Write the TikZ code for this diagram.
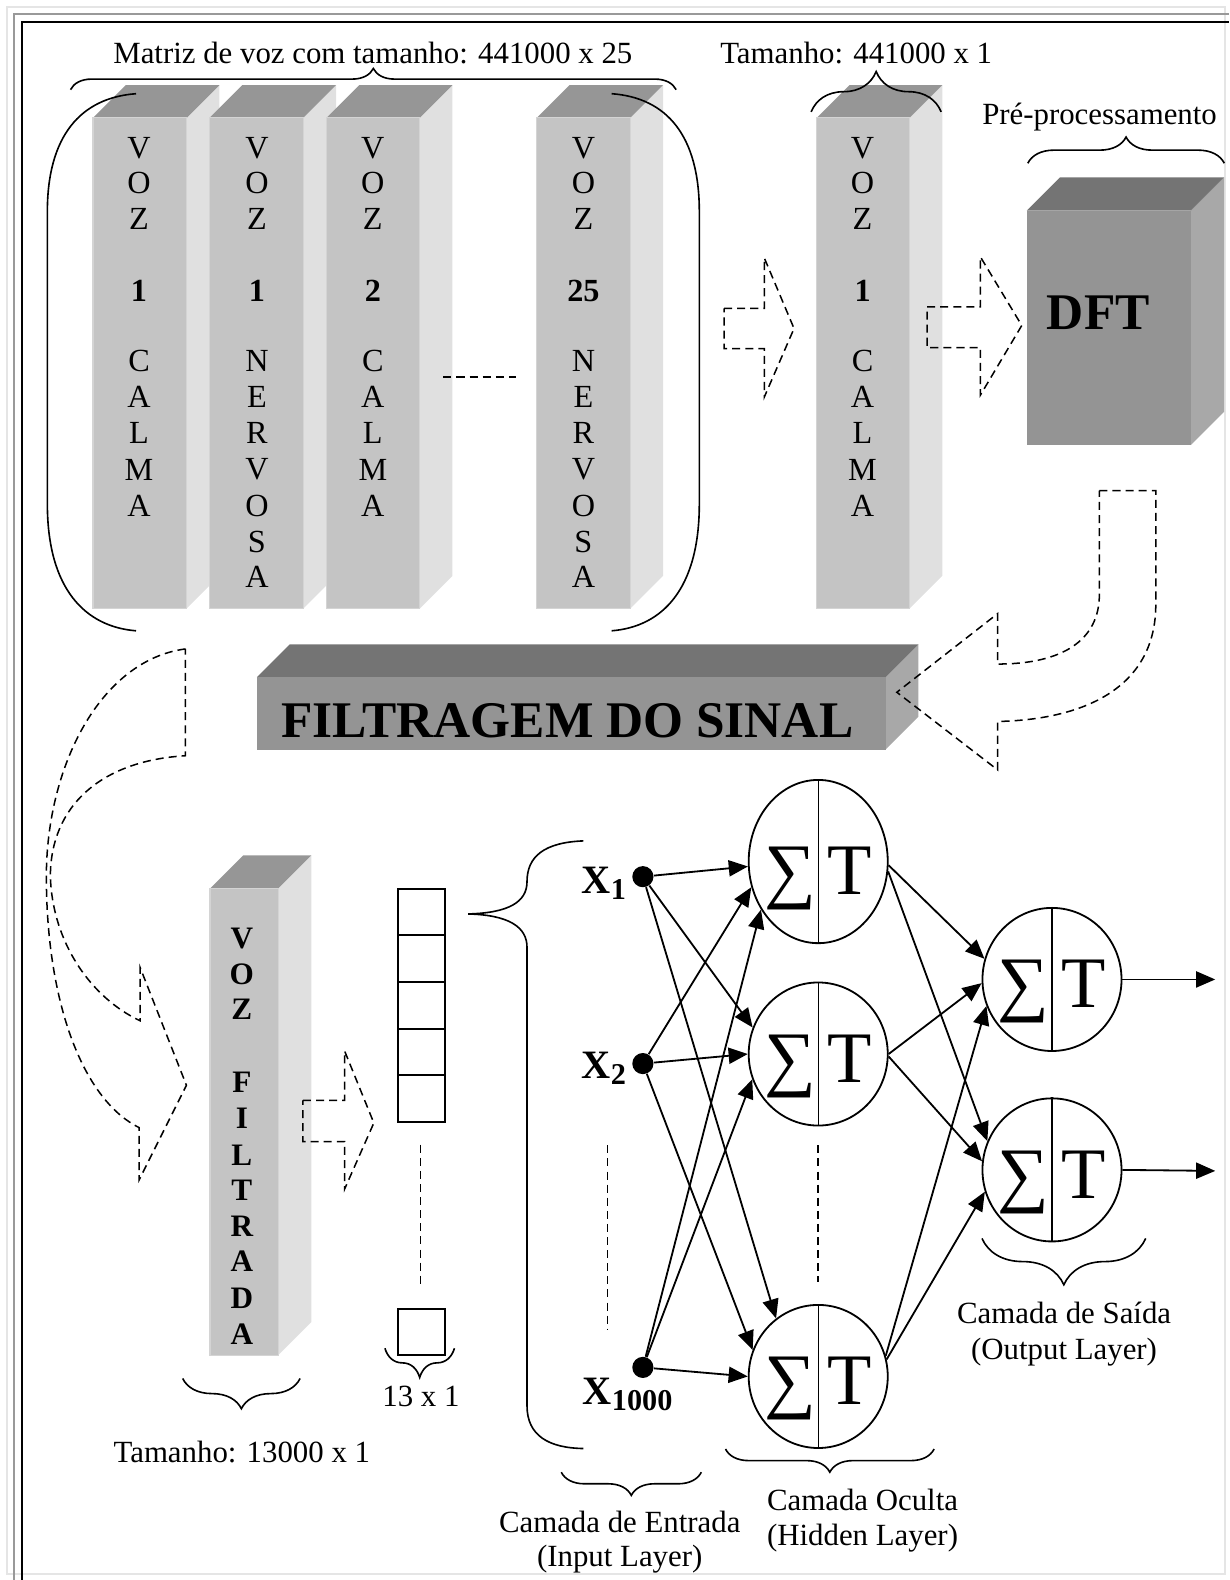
\documentclass[tikz,border=0pt]{standalone}
\usepackage{fontspec}
\setmainfont{Liberation Serif}
\usetikzlibrary{shapes.geometric,arrows.meta,decorations.pathreplacing}
\definecolor{cfront}{gray}{0.77}
\definecolor{ctop}{gray}{0.59}
\definecolor{cside}{gray}{0.88}
\definecolor{cedge}{gray}{0.83}
\definecolor{dfront}{gray}{0.58}
\definecolor{dtop}{gray}{0.455}
\definecolor{dside}{gray}{0.66}
\definecolor{framelight}{gray}{0.9}
\definecolor{framemid}{gray}{0.6}
\newcommand\boxthreed[8]{%
  \fill[#8] (#3,#2) -- (#3+#5,#2-#5) -- (#3+#5,#4-#5) -- (#3,#4) -- cycle;
  \fill[#7] (#1,#2) -- (#1+#5,#2-#5) -- (#3+#5,#2-#5) -- (#3,#2) -- cycle;
  \fill[#6] (#1,#2) rectangle (#3,#4);
}
\newcommand\neuronnode[5]{%
  \node[neuron, minimum height=#4] (#1) at (#2,#3) {};
  \draw[line width=0.7pt] (#1.north) -- (#1.south);
  \node[sigt, anchor=base] (#1s) at (#2-28,#3+#5) {∑};
  \node[sigt, anchor=base] (#1t) at (#2+31,#3+#5) {T};
}
\begin{document}
\begin{tikzpicture}[x=0.5pt,y=-0.5pt,
  txt/.style={font=\fontsize{15.3}{18}\selectfont, inner sep=0pt},
  colt/.style={font=\fontsize{16}{16}\selectfont, inner sep=0pt},
  colb/.style={font=\fontsize{15.5}{16}\selectfont\bfseries, inner sep=0pt},
  big/.style={font=\fontsize{25.5}{26}\selectfont\bfseries, inner sep=0pt},
  sigt/.style={font=\fontsize{36}{36}\selectfont, inner sep=0pt},
  xlab/.style={font=\fontsize{20}{20}\selectfont\bfseries, inner sep=0pt, anchor=base west},
  dline/.style={draw=black, line width=0.75pt, dash pattern=on 4pt off 2.5pt},
  brc/.style={decorate, decoration={brace, amplitude=#1}, line width=0.8pt},
  curve/.style={line width=0.8pt},
  arr/.style={-{Triangle[length=9.5pt,width=8pt]}, line width=0.9pt},
  neuron/.style={ellipse, draw, line width=0.9pt, minimum width=69pt, minimum height=71pt, inner sep=0pt},
  dot/.style={circle, fill=black, minimum size=10.5pt, inner sep=0pt},
  cell/.style={draw, line width=1pt, minimum width=23pt, minimum height=23.15pt, inner sep=0pt},
  edge/.style={draw=cedge, line width=0.6pt}
]
\useasboundingbox (0,0) rectangle (1220,1568);
% frame
\draw[framelight, line width=1pt] (6.6,6.6) rectangle (1216,1561.6);
\draw[framemid, line width=1pt] (14.2,1568) -- (14.2,14.2) -- (1220,14.2);
\draw[black, line width=1pt] (22.1,1568) -- (22.1,22.1) -- (1220,22.1);

% ---------- top group of columns ----------
\boxthreed{92.2}{117}{185.2}{604}{32.5}{cfront}{ctop}{cside}
\draw[edge] (92.2,117) rectangle (185.2,604);
\boxthreed{208}{117}{301}{604}{32.5}{cfront}{ctop}{cside}
\draw[edge] (208,117) rectangle (301,604);
\boxthreed{324}{117}{416.5}{604}{32.5}{cfront}{ctop}{cside}
\draw[edge] (324,117) rectangle (416.5,604);
\boxthreed{532.7}{117}{625.5}{604}{32.5}{cfront}{ctop}{cside}
\draw[edge] (532.7,117) rectangle (625.5,604);

\foreach \l/\yy [count=\i] in {V/147,O/182,Z/217,\textbf{1}/289,C/358,A/394,L/430,M/466,A/502}
  \node[colt] (ca\i) at (138,\yy) {\l};
\foreach \l/\yy [count=\i] in {V/147,O/182,Z/217,\textbf{1}/289,N/358,E/394,R/430,V/466,O/502,S/538,A/572}
  \node[colt] (cb\i) at (255,\yy) {\l};
\foreach \l/\yy [count=\i] in {V/147,O/182,Z/217,\textbf{2}/289,C/358,A/394,L/430,M/466,A/502}
  \node[colt] (cc\i) at (370,\yy) {\l};
\foreach \l/\yy [count=\i] in {V/147,O/182,Z/217,\textbf{25}/289,N/358,E/394,R/430,V/466,O/502,S/538,A/572}
  \node[colt] (cd\i) at (579,\yy) {\l};

\draw[dline] (440,374) -- (512,374);

% round brackets
\draw[curve] (135,93) .. controls (80,97) and (47,135) .. (47,210) -- (47,500) .. controls (47,585) and (85,622) .. (135,626);
\draw[curve] (607,93) .. controls (662,97) and (694,135) .. (694,210) -- (694,500) .. controls (694,585) and (657,622) .. (607,626);

% top brace and text
\draw[brc=10.5pt] (70,89) -- (671,89);
\node[txt, anchor=base] (tmat) at (370,63) {Matriz de voz com tamanho: 441000 x 25};

% arrow 1
\draw[dline] (718.5,306) -- (758.5,306) -- (758.5,256) -- (788,326) -- (758.5,394) -- (758.5,346) -- (718.5,346) -- cycle;

% VOZ 1 CALMA
\boxthreed{810.6}{117}{902.6}{604}{32.5}{cfront}{ctop}{cside}
\draw[edge] (810.6,117) rectangle (902.6,604);
\foreach \l/\yy [count=\i] in {V/147,O/182,Z/217,\textbf{1}/289,C/358,A/394,L/430,M/466,A/502}
  \node[colt] (ce\i) at (856,\yy) {\l};
\draw[brc=20pt] (805,111) -- (934,111);
\node[txt, anchor=base] (tsz) at (849.7,63) {Tamanho: 441000 x 1};

% arrow 2
\draw[dline] (920,304.5) -- (973,304.5) -- (973,255) -- (1014,323) -- (973,392) -- (973,345) -- (920,345) -- cycle;

% DFT
\boxthreed{1019}{209}{1181.7}{441.7}{33}{dfront}{dtop}{dside}
\node[big] (dft) at (1090,310) {DFT};
\draw[brc=13pt] (1020,162) -- (1215,162);
\node[txt, anchor=base] (tpre) at (1091.2,124) {Pré-processamento};

% FILTRAGEM
\boxthreed{255}{672}{879}{743.8}{32.5}{dfront}{dtop}{dside}
\node[big] (filt) at (563,715) {FILTRAGEM DO SINAL};

% U-turn arrow
\draw[dline] (1091,487) -- (1147,487) -- (1147,600) .. controls (1147,680) and (1080,714) .. (990,716) -- (990,764) -- (890,687) -- (990,609) -- (990,659) .. controls (1055,659) and (1091,635) .. (1091,590) -- cycle;

% left curved arrow
\draw[dline] (184,644) .. controls (100,655) and (46,760) .. (46,870) .. controls (46,990) and (80,1090) .. (138,1119) -- (138,1171) -- (185,1077) -- (139,960) -- (139,1013) .. controls (90,990) and (52,935) .. (50,870) .. controls (50,800) and (100,755) .. (184,750) -- cycle;

% VOZ FILTRADA
\boxthreed{208.5}{881.8}{276}{1345}{33}{cfront}{ctop}{cside}
\draw[edge] (208.5,881.8) rectangle (276,1345);
\foreach \l/\yy [count=\i] in {V/931,O/967,Z/1002,F/1074,I/1110,L/1146,T/1181,R/1217,A/1252,D/1288,A/1324}
  \node[colb] (cf\i) at (240,\yy) {\l};
\draw[brc=15pt] (297.8,1368) -- (181.3,1368);
\node[txt, anchor=base] (t13000) at (240,1451) {Tamanho: 13000 x 1};

% small arrow
\draw[dline] (300.6,1092) -- (342,1092) -- (342,1043) -- (371,1114.4) -- (342,1180) -- (342,1133) -- (300.6,1133) -- cycle;

% vector
\foreach \i in {0,...,4}
  \node[cell] (v\i) at (418.3,905+\i*46.3) {};
\draw[dline] (417.3,1136) -- (417.3,1274);
\node[cell] (vlast) at (418.3,1322) {};
\draw[brc=14.5pt] (451,1338) -- (382,1338);
\node[txt, anchor=base] (t13) at (417.7,1396) {13 x 1};

% big left brace
\draw[curve] (579,834.5) .. controls (540,836) and (523,850) .. (523,875) .. controls (523,895) and (505,906) .. (464.5,907) .. controls (505,908) and (523,920) .. (523,940) -- (523,1395) .. controls (523,1425) and (545,1437) .. (579,1437.5);

% inputs
\node[dot] (X1) at (638,870) {};
\node[dot] (X2) at (638,1055.5) {};
\node[dot] (X1000) at (638,1357) {};
\node[xlab] (lx1) at (577,886.5) {X\raisebox{-3pt}{\fontsize{15}{15}\selectfont 1}};
\node[xlab] (lx2) at (577,1070) {X\raisebox{-3pt}{\fontsize{15}{15}\selectfont 2}};
\node[xlab] (lx3) at (578,1394) {X\raisebox{-3pt}{\fontsize{15}{15}\selectfont 1000}};
\draw[dline] (603,1136.6) -- (603,1320);

% neurons
\neuronnode{H1}{812}{855}{81pt}{33}
\neuronnode{H2}{812}{1046}{71pt}{28}
\neuronnode{H3}{812}{1366}{71pt}{28}
\neuronnode{O1}{1044}{972}{71pt}{28}
\neuronnode{O2}{1044}{1161}{71pt}{28}
\draw[dline] (812,1136.6) -- (812,1272);

% connections
\draw[arr] (X1) -- (H1.184);
\draw[arr] (X2) -- (H1.201);
\draw[arr] (X1000) -- (H1.220);
\draw[arr] (X1) -- (H2.158);
\draw[arr] (X2) -- (H2.west);
\draw[arr] (X1000) -- (H2.201);
\draw[arr] (X1) -- (H3.126);
\draw[arr] (X2) -- (H3.158);
\draw[arr] (X1000) -- (H3.west);
\draw[arr] (H1.-3) -- (O1.163);
\draw[arr] (H1.-8) -- (O2.156);
\draw[arr] (H2.east) -- (O1.183);
\draw[arr] (H2.-2) -- (O2.173);
\draw[arr] (H3.17) -- (O1.202);
\draw[arr] (H3.14) -- (O2.198);
\coordinate (out1) at (1206,972);
\coordinate (out2) at (1206,1162);
\draw[arr] (O1.east) -- (out1);
\draw[arr] (O2.east) -- (out2);

% layer braces and labels
\draw[brc=23pt] (1137,1229) -- (974.5,1229);
\node[txt, anchor=base] (tsai1) at (1056,1313) {Camada de Saída};
\node[txt, anchor=base] (tsai2) at (1056,1349) {(Output Layer)};
\draw[brc=11.5pt] (927,1438) -- (720,1438);
\node[txt, anchor=base] (toc1) at (856,1499) {Camada Oculta};
\node[txt, anchor=base] (toc2) at (856,1533.6) {(Hidden Layer)};
\draw[brc=11.5pt] (696,1461) -- (557,1461);
\node[txt, anchor=base] (tin1) at (615,1520.5) {Camada de Entrada};
\node[txt, anchor=base] (tin2) at (615,1555) {(Input Layer)};
\end{tikzpicture}
\end{document}
